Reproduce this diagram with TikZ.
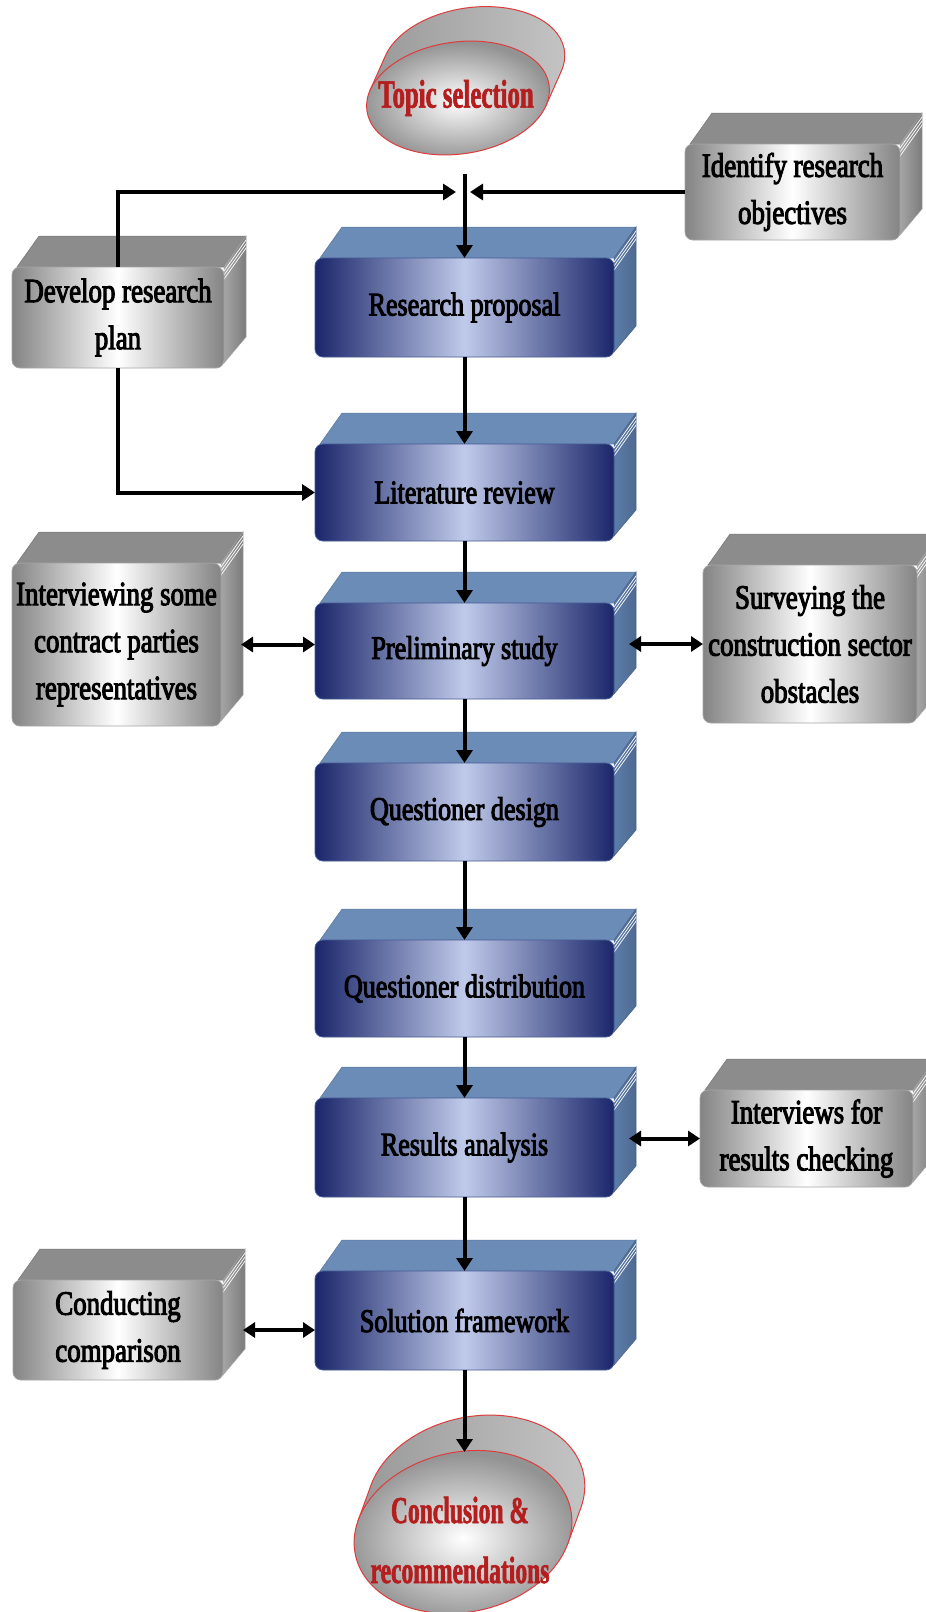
\documentclass[tikz,border=0pt]{standalone}
\usepackage{fontspec}
\setmainfont{Liberation Serif}
\newfontfamily\boxfont[FakeStretch=0.79, FakeBold=3]{Liberation Serif}
\newfontfamily\ellfont[FakeStretch=0.62, FakeBold=1.5]{Liberation Serif}
\usetikzlibrary{arrows.meta,shapes.geometric,calc}

\definecolor{navy}{RGB}{26,38,106}
\definecolor{paleblue}{RGB}{192,202,234}
\definecolor{bluetopc}{RGB}{108,140,184}
\definecolor{bluesidec}{RGB}{92,124,170}
\definecolor{greyedge}{RGB}{132,132,132}
\definecolor{greytopc}{RGB}{140,140,140}
\definecolor{greysidec}{RGB}{165,165,165}
\definecolor{ellred}{RGB}{180,30,30}
\definecolor{ellline}{RGB}{222,60,60}

\tikzset{
  bluefront/.style={rectangle, rounded corners=8pt, left color=navy, right color=navy,
    middle color=paleblue, draw={rgb,255:red,70;green,92;blue,150}, line width=0.8pt,
    font=\boxfont\fontsize{33}{47}\selectfont, align=center, inner sep=0pt, outer sep=0pt, text=black},
  bluetop/.style={fill=bluetopc, draw=bluetopc!85!black, line width=0.5pt},
  blueside/.style={left color=bluesidec, right color=bluesidec!85!black, draw=bluesidec!80!black, line width=0.5pt},
  greyfront/.style={rectangle, rounded corners=8pt, left color=greyedge, right color=greyedge,
    middle color=white, draw=gray!70, line width=0.8pt,
    font=\boxfont\fontsize{34}{47}\selectfont, align=center, inner sep=0pt, outer sep=0pt, text=black},
  greytop/.style={fill=greytopc, draw=greytopc!85!black, line width=0.5pt},
  greyside/.style={left color=greysidec, right color=greysidec!75!black, draw=gray!70, line width=0.5pt},
  arr/.style={line width=4pt, -{Triangle[length=13pt,width=16pt]}},
  dbl/.style={line width=4pt, {Triangle[length=12pt,width=15pt]}-{Triangle[length=12pt,width=15pt]}},
  ellback/.style={left color=gray!80, right color=gray!45, draw=ellline, line width=1pt},
  ellfront/.style={inner color=white, outer color=gray!85, draw=ellline, line width=1pt},
  elltext/.style={ellipse, inner sep=0pt, outer sep=0pt, align=center, text=ellred},
}

% #1 name, #2 x1, #3 y1, #4 x2, #5 y2, #6 kind, #7 text
\newcommand\cubenode[7]{%
  \path[#6top] ({#2+5},#3) -- ({#2+5+22},{#3-31}) -- ({#4+22},{#3-31}) -- (#4,#3) -- cycle;
  \path[#6side] (#4,#3) -- ({#4+22},{#3-31}) -- ({#4+22},{#5-31}) -- (#4,{#5-5}) -- cycle;
  \begin{scope}
    \clip (#4,#3) -- ({#4+22},{#3-31}) -- ({#4+22},{#5-31}) -- (#4,{#5-5}) -- cycle;
    \foreach \k in {1,2,3}
      \draw[white, line width=0.7pt] ({#4+1.9*\k-6.6},{#3+1.35*\k+9.3}) -- ++(33,-46.5);
  \end{scope}
  \node[#6front, minimum width={(#4-#2)*1pt}, minimum height={(#5-#3)*1pt}] (#1)
    at ({(#2+#4)/2},{(#3+#5)/2}) {#7};
}

\begin{document}
\begin{tikzpicture}[x=1pt,y=-1pt]
\useasboundingbox (0,0) rectangle (926,1612);
\fill[white] (0,0) rectangle (926,1612);

% ---- top ellipse (cylinder look)
\begin{scope}[shift={(458,98)}, rotate=8]
  \path[ellback] (-86.0,-19.9) -- (-66.0,-51.9)
     arc[start angle=200.8, end angle=380.8, x radius=92, y radius=56] -- (86.0,19.9) -- cycle;
  \path[ellfront] (0,0) ellipse [x radius=92, y radius=56];
\end{scope}
\node[elltext, minimum width=184pt, minimum height=112pt,
      font=\ellfont\bfseries\fontsize{40}{48}\selectfont] (topic) at (456,98) {Topic selection};

% ---- bottom ellipse
\begin{scope}[shift={(463,1532)}, rotate=12]
  \path[ellback] (-100.2,-33.0) -- (-80.2,-65.0)
     arc[start angle=204.4, end angle=384.4, x radius=110, y radius=80] -- (100.2,33.0) -- cycle;
  \path[ellfront] (0,0) ellipse [x radius=110, y radius=80];
\end{scope}
\node[elltext, minimum width=218pt, minimum height=176pt,
      font=\ellfont\bfseries\fontsize{38}{60}\selectfont] (concl) at (460,1540)
      {Conclusion \&\\recommendations};

% ---- central column
\cubenode{rp}{315}{258}{614}{357}{blue}{Research proposal}
\cubenode{lr}{315}{444}{614}{541}{blue}{Literature review}
\cubenode{pre}{315}{603}{614}{699}{blue}{Preliminary study}
\cubenode{qd}{315}{763}{614}{861}{blue}{Questioner design}
\cubenode{qdist}{315}{940}{614}{1037}{blue}{Questioner distribution}
\cubenode{ra}{315}{1098}{614}{1197}{blue}{Results analysis}
\cubenode{sf}{315}{1271}{614}{1370}{blue}{Solution framework}

% ---- side boxes
\cubenode{obj}{685}{144}{900}{240}{grey}{Identify research\\objectives}
\cubenode{dev}{12}{267}{224}{368}{grey}{Develop research\\plan}
\cubenode{int}{12}{563}{221}{726}{grey}{Interviewing some\\contract parties\\representatives}
\cubenode{sur}{703}{565}{917}{723}{grey}{Surveying the\\construction sector\\obstacles}
\cubenode{ir}{700}{1090}{913}{1187}{grey}{Interviews for\\results checking}
\cubenode{cc}{13}{1280}{223}{1380}{grey}{Conducting\\comparison}

% ---- connectors
\coordinate (jl) at (456,192);
\coordinate (jr) at (470,192);
\draw[arr] (dev.north) |- (jl);
\draw[arr] (obj.west) -- (jr);
\path (topic.south) ++(0,20) coordinate (ts);
\draw[arr] (ts -| rp.north) -- (rp.north);

\draw[arr] (dev.south) |- (lr.west);
\draw[arr] (rp.south) -- (lr.north);
\draw[arr] (lr.south) -- (pre.north);
\draw[arr] (pre.south) -- (qd.north);
\draw[arr] (qd.south) -- (qdist.north);
\draw[arr] (qdist.south) -- (ra.north);
\draw[arr] (ra.south) -- (sf.north);
\draw[arr] (sf.south) -- (sf.south |- concl.north);

\path ([xshift=20pt]int.east) coordinate (intR);
\draw[dbl] (intR) -- (intR -| pre.west);
\path ([xshift=15pt]pre.east) coordinate (preR);
\draw[dbl] (preR |- sur.west) -- (sur.west);
\path ([xshift=15pt]ra.east) coordinate (raR);
\draw[dbl] (raR |- ir.west) -- (ir.west);
\path ([xshift=20pt]cc.east) coordinate (ccR);
\draw[dbl] (ccR) -- (ccR -| sf.west);
\end{tikzpicture}
\end{document}
